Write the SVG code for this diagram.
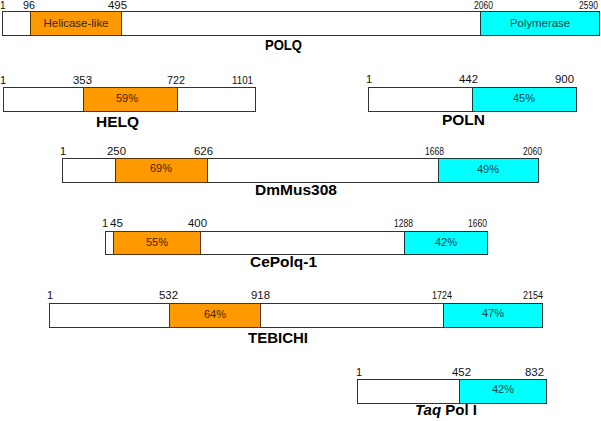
<svg xmlns="http://www.w3.org/2000/svg" width="601" height="421" viewBox="0 0 601 421">
<style>
.bar{fill:#fff;stroke:#333;stroke-width:1}
.hel{fill:#ff9900;stroke:#5a3300;stroke-width:1}
.pol{fill:#00ffff;stroke:#1a3a3a;stroke-width:1}
.num{font-family:"Liberation Sans",Arial,sans-serif;font-size:11px;fill:#111}
.top{font-size:10px}
.in{font-family:"Liberation Sans",Arial,sans-serif;font-size:11px;text-anchor:middle}
.ino{fill:#3d2300}
.inc{fill:#0f4545}
.name{font-family:"Liberation Sans",Arial,sans-serif;font-size:15px;font-weight:bold;fill:#000}
</style>
<rect width="601" height="421" fill="#fff"/>
<g id="POLQ">
<rect class="bar" x="2.5" y="11.5" width="597" height="24"/>
<rect class="hel" x="30.5" y="11.5" width="91" height="24"/>
<rect class="pol" x="480.5" y="11.5" width="119" height="24"/>
<text class="in ino" x="76" y="27" textLength="65" lengthAdjust="spacingAndGlyphs">Helicase-like</text>
<text class="in inc" x="540" y="27" textLength="60" lengthAdjust="spacingAndGlyphs">Polymerase</text>
<text class="num top" x="0" y="9">1</text>
<text class="num top" x="23" y="9" textLength="12" lengthAdjust="spacingAndGlyphs">96</text>
<text class="num top" x="108" y="9" textLength="19" lengthAdjust="spacingAndGlyphs">495</text>
<text class="num top" x="474" y="9" textLength="19" lengthAdjust="spacingAndGlyphs">2060</text>
<text class="num top" x="579" y="9" textLength="19" lengthAdjust="spacingAndGlyphs">2590</text>
<text class="name" x="265" y="50" textLength="37" lengthAdjust="spacingAndGlyphs">POLQ</text>
</g>
<g id="HELQ">
<rect class="bar" x="3.5" y="87.5" width="252" height="24"/>
<rect class="hel" x="83.5" y="87.5" width="94" height="24"/>
<text class="in ino" x="127" y="102">59%</text>
<text class="num" x="0" y="84">1</text>
<text class="num" x="73" y="84" textLength="19" lengthAdjust="spacingAndGlyphs">353</text>
<text class="num" x="167" y="84" textLength="18" lengthAdjust="spacingAndGlyphs">722</text>
<text class="num" x="232" y="84" textLength="21" lengthAdjust="spacingAndGlyphs">1101</text>
<text class="name" x="96" y="127" textLength="43" lengthAdjust="spacingAndGlyphs">HELQ</text>
</g>
<g id="POLN">
<rect class="bar" x="368.5" y="87.5" width="208" height="24"/>
<rect class="pol" x="472.5" y="87.5" width="104" height="24"/>
<text class="in inc" x="524" y="102">45%</text>
<text class="num" x="366" y="83">1</text>
<text class="num" x="459" y="83" textLength="19" lengthAdjust="spacingAndGlyphs">442</text>
<text class="num" x="555" y="83" textLength="19" lengthAdjust="spacingAndGlyphs">900</text>
<text class="name" x="442" y="125" textLength="43" lengthAdjust="spacingAndGlyphs">POLN</text>
</g>
<g id="DmMus308">
<rect class="bar" x="62.5" y="158.5" width="476" height="24"/>
<rect class="hel" x="115.5" y="158.5" width="92" height="24"/>
<rect class="pol" x="438.5" y="158.5" width="100" height="24"/>
<text class="in ino" x="161" y="172">69%</text>
<text class="in inc" x="488" y="173">49%</text>
<text class="num" x="60" y="155">1</text>
<text class="num" x="107" y="155" textLength="19" lengthAdjust="spacingAndGlyphs">250</text>
<text class="num" x="194" y="155" textLength="19" lengthAdjust="spacingAndGlyphs">626</text>
<text class="num" x="425" y="155" textLength="19" lengthAdjust="spacingAndGlyphs">1668</text>
<text class="num" x="523" y="155" textLength="19" lengthAdjust="spacingAndGlyphs">2060</text>
<text class="name" x="255" y="195" textLength="82" lengthAdjust="spacingAndGlyphs">DmMus308</text>
</g>
<g id="CePolq-1">
<rect class="bar" x="105.5" y="231.5" width="382" height="23"/>
<rect class="hel" x="113.5" y="231.5" width="87" height="23"/>
<rect class="pol" x="404.5" y="231.5" width="83" height="23"/>
<text class="in ino" x="157" y="246">55%</text>
<text class="in inc" x="446" y="246">42%</text>
<text class="num" x="102" y="227">1</text>
<text class="num" x="110" y="227" textLength="13" lengthAdjust="spacingAndGlyphs">45</text>
<text class="num" x="188" y="227" textLength="19" lengthAdjust="spacingAndGlyphs">400</text>
<text class="num" x="394" y="227" textLength="19" lengthAdjust="spacingAndGlyphs">1288</text>
<text class="num" x="468" y="227" textLength="19" lengthAdjust="spacingAndGlyphs">1660</text>
<text class="name" x="250" y="267" textLength="67" lengthAdjust="spacingAndGlyphs">CePolq-1</text>
</g>
<g id="TEBICHI">
<rect class="bar" x="49.5" y="303.5" width="493" height="24"/>
<rect class="hel" x="169.5" y="303.5" width="91" height="24"/>
<rect class="pol" x="443.5" y="303.5" width="99" height="24"/>
<text class="in ino" x="215" y="318">64%</text>
<text class="in inc" x="493" y="317">47%</text>
<text class="num" x="47" y="299">1</text>
<text class="num" x="159" y="299" textLength="19" lengthAdjust="spacingAndGlyphs">532</text>
<text class="num" x="251" y="299" textLength="19" lengthAdjust="spacingAndGlyphs">918</text>
<text class="num" x="432" y="299" textLength="20" lengthAdjust="spacingAndGlyphs">1724</text>
<text class="num" x="523" y="299" textLength="20" lengthAdjust="spacingAndGlyphs">2154</text>
<text class="name" x="248" y="343" textLength="60" lengthAdjust="spacingAndGlyphs">TEBICHI</text>
</g>
<g id="TaqPolI">
<rect class="bar" x="357.5" y="379.5" width="189" height="24"/>
<rect class="pol" x="459.5" y="379.5" width="87" height="24"/>
<text class="in inc" x="503" y="393">42%</text>
<text class="num" x="356" y="376">1</text>
<text class="num" x="452" y="376" textLength="19" lengthAdjust="spacingAndGlyphs">452</text>
<text class="num" x="525" y="376" textLength="19" lengthAdjust="spacingAndGlyphs">832</text>
<text class="name" x="415" y="415" textLength="62" lengthAdjust="spacingAndGlyphs"><tspan font-style="italic">Taq</tspan> Pol I</text>
</g>
</svg>
